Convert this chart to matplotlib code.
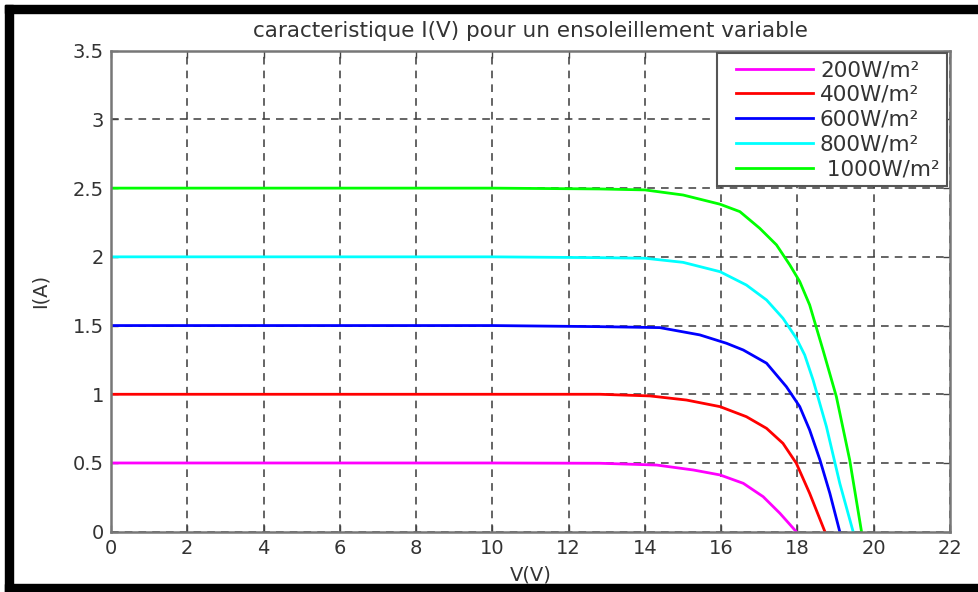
import matplotlib.pyplot as plt
from matplotlib.patches import Rectangle
from matplotlib.lines import Line2D
from matplotlib.legend_handler import HandlerLine2D

# I(V) curves, one per irradiance level
V_200 = [0, 5, 10, 12.82, 14.31, 15.27, 15.97, 16.58, 17.1, 17.54, 17.97]
I_200 = [0.5, 0.5, 0.5, 0.498, 0.485, 0.449, 0.413, 0.352, 0.255, 0.134, 0.0]

V_400 = [0, 5, 10, 12.82, 14.13, 15.09, 15.97, 16.66, 17.19, 17.62, 17.97, 18.32, 18.72]
I_400 = [1.0, 1.0, 1.0, 1.0, 0.988, 0.958, 0.91, 0.837, 0.752, 0.643, 0.498, 0.279, 0.0]

V_600 = [0, 5, 10, 12.82, 14.39, 15.44, 16.14, 16.58, 17.19, 17.71, 18.06, 18.32, 18.59, 18.85, 19.11]
I_600 = [1.5, 1.5, 1.5, 1.492, 1.485, 1.432, 1.371, 1.322, 1.226, 1.055, 0.91, 0.74, 0.522, 0.279, 0.0]

V_800 = [0, 5, 10, 12.82, 14.0, 15.0, 15.97, 16.66, 17.19, 17.62, 17.97, 18.19, 18.41, 18.76, 19.11, 19.46]
I_800 = [2.0, 2.0, 2.0, 1.994, 1.99, 1.96, 1.892, 1.795, 1.686, 1.553, 1.408, 1.286, 1.104, 0.764, 0.352, 0.0]

V_1000 = [0, 5, 10, 12.82, 14.0, 15.0, 15.97, 16.49, 17.01, 17.45, 17.8, 18.06, 18.32, 18.67, 19.02, 19.37, 19.68]
I_1000 = [2.5, 2.5, 2.5, 2.494, 2.487, 2.45, 2.383, 2.329, 2.208, 2.087, 1.941, 1.82, 1.65, 1.322, 0.983, 0.522, 0.0]

LABELS = ["200W/m²", "400W/m²", "600W/m²", "800W/m²", " 1000W/m²"]
COLORS = ["#ff00ff", "#ff0000", "#0000ff", "#00ffff", "#00ff00"]

X_TICKS = list(range(0, 23, 2))
Y_TICKS = [0, 0.5, 1, 1.5, 2, 2.5, 3, 3.5]
Y_TICKLABELS = ["0", "0.5", "1", "1.5", "2", "2.5", "3", "3.5"]

plt.rcParams['font.family'] = ['DejaVu Sans']

fig = plt.figure(figsize=(9.79, 5.92), dpi=100)
ax = fig.add_axes([111 / 979, 1 - 531.7 / 592, (950 - 111) / 979, (531.7 - 50.7) / 592])

curves = [(V_200, I_200), (V_400, I_400), (V_600, I_600), (V_800, I_800), (V_1000, I_1000)]
for (v, i), c, lab in zip(curves, COLORS, LABELS):
    ax.plot(v, i, color=c, lw=2, label=lab)

ax.set_xlim(0, 22)
ax.set_ylim(0, 3.5)
ax.set_xticks(X_TICKS)
ax.set_yticks(Y_TICKS)
ax.set_yticklabels(Y_TICKLABELS)
ax.tick_params(direction='in', top=True, right=True, length=5, width=1,
               color='#444444', labelsize=14, labelcolor='#333333', pad=5)
ax.grid(True, color='#3a3a3a', linestyle=(0, (5, 4)), lw=1.1)
for s in ax.spines.values():
    s.set_color('#777777')
    s.set_linewidth(1.8)

ax.set_title("caracteristique I(V) pour un ensoleillement variable", fontsize=15.5,
             color='#333333', pad=10)
ax.set_xlabel("V(V)", fontsize=14, color='#333333', labelpad=6)
ax.set_ylabel("I(A)", fontsize=14, color='#333333')
ax.yaxis.set_label_coords(-0.073, 0.5)

# xpad leaves blank room left of the legend lines, as in the picture
leg = ax.legend(loc='upper right', bbox_to_anchor=(0.996, 0.995), fancybox=False,
                framealpha=1, edgecolor='#555555', handlelength=4.1, handletextpad=0.33,
                borderpad=0.33, labelspacing=0.22, borderaxespad=0,
                prop={'size': 15.5}, handler_map={Line2D: HandlerLine2D(xpad=0.51)})
leg.get_frame().set_linewidth(1.5)
for t in leg.get_texts():
    t.set_color('#333333')

# black frame around the picture (top, left, bottom)
fig.patches.append(Rectangle((5 / 979, 1 - 13 / 592), 1, 8 / 592, transform=fig.transFigure,
                             color='black', zorder=10))
fig.patches.append(Rectangle((5 / 979, 0), 8 / 979, 1 - 5 / 592, transform=fig.transFigure,
                             color='black', zorder=10))
fig.patches.append(Rectangle((5 / 979, 0), 1, 8 / 592, transform=fig.transFigure,
                             color='black', zorder=10))

fig.savefig("out.png", dpi=100)
